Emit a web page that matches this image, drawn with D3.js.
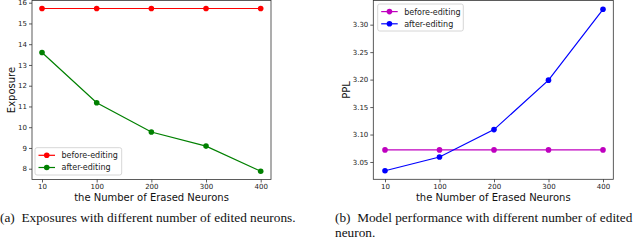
<!DOCTYPE html>
<html>
<head>
<meta charset="utf-8">
<script src="https://cdn.jsdelivr.net/npm/d3@7"></script>
<style>
    body { margin: 0; background: #fff; }
    svg { display: block; }
    .tick-label { font-family: "DejaVu Sans", sans-serif; font-size: 7px; fill: #222; }
    .axis-title { font-family: "DejaVu Sans", sans-serif; font-size: 10px; fill: #111; }
    .legend-text { font-family: "DejaVu Sans", sans-serif; font-size: 8px; fill: #222; }
    .caption { font-family: "Liberation Serif", "Times New Roman", serif; font-size: 13.3px; fill: #111; white-space: pre; }
</style>
</head>
<body>
<script>
// ============================================================
// Two panels: Exposure and PPL vs number of erased neurons
// ============================================================

var categories = ["10", "100", "200", "300", "400"];

var exposureBefore = [15.72, 15.72, 15.72, 15.72, 15.72];
var exposureAfter = [13.6, 11.18, 9.77, 9.09, 7.88];
var exposureTicks = [8, 9, 10, 11, 12, 13, 14, 15, 16];

var pplBefore = [3.072, 3.072, 3.072, 3.072, 3.072];
var pplAfter = [3.034, 3.059, 3.109, 3.199, 3.328];
var pplTicks = [3.05, 3.10, 3.15, 3.20, 3.25, 3.30];

var seriesNames = ["before-editing", "after-editing"];

var w = 640, h = 240;

var svg = d3.select("body").append("svg")
    .attr("width", w)
    .attr("height", h);

// panel config
var panels = [
    {
        left: 32, right: 271, top: 0.5, bottom: 179.5,
        xRange: [42, 260.7],
        yDomain: [7.48, 16.106],
        ticks: exposureTicks, fmt: d3.format("d"),
        series: [exposureBefore, exposureAfter],
        colors: ["#ff0000", "#008000"],
        ylabel: "Exposure", ylabelX: 11,
        legend: { x: 35, y: 147.7, w: 86.7, h: 27.3 },
        caption: ["(a)  Exposures with different number of edited neurons."],
        capX: 0
    },
    {
        left: 373.3, right: 613.3, top: 0.5, bottom: 179.3,
        xRange: [385, 603],
        yDomain: [3.0185, 3.344],
        ticks: pplTicks, fmt: d3.format(".2f"),
        series: [pplBefore, pplAfter],
        colors: ["#bf00bf", "#0000ff"],
        ylabel: "PPL", ylabelX: 346,
        legend: { x: 377.7, y: 4, w: 85.6, h: 27 },
        caption: ["(b)  Model performance with different number of edited", "neuron."],
        capX: 335
    }
];

panels.forEach(function(p) {
    var x = d3.scalePoint().domain(categories).range(p.xRange);
    var y = d3.scaleLinear().domain(p.yDomain).range([p.bottom, p.top]);
    var g = svg.append("g");

    // x axis
    var xAxis = g.append("g")
        .attr("transform", "translate(0," + p.bottom + ")")
        .call(d3.axisBottom(x).tickSize(3).tickPadding(2));
    // y axis
    var yAxis = g.append("g")
        .attr("transform", "translate(" + p.left + ",0)")
        .call(d3.axisLeft(y).tickValues(p.ticks).tickFormat(p.fmt).tickSize(3).tickPadding(2));

    [xAxis, yAxis].forEach(function(a) {
        a.select(".domain").remove();
        a.selectAll(".tick line").attr("stroke", "#333").attr("stroke-width", 0.8);
        a.selectAll(".tick text").attr("class", "tick-label").attr("font-family", null).attr("font-size", null).attr("fill", null);
    });

    // frame
    g.append("rect")
        .attr("x", p.left)
        .attr("y", p.top)
        .attr("width", p.right - p.left)
        .attr("height", p.bottom - p.top)
        .attr("fill", "none")
        .attr("stroke", "#333")
        .attr("stroke-width", 0.8);

    // lines + markers
    var line = d3.line()
        .x(function(d, i) { return x(categories[i]); })
        .y(function(d) { return y(d); });

    p.series.forEach(function(s, k) {
        g.append("path")
            .datum(s)
            .attr("d", line)
            .attr("fill", "none")
            .attr("stroke", p.colors[k])
            .attr("stroke-width", 1.2);
        g.selectAll(null)
            .data(s)
            .enter().append("circle")
            .attr("cx", function(d, i) { return x(categories[i]); })
            .attr("cy", function(d) { return y(d); })
            .attr("r", 2.8)
            .attr("fill", p.colors[k]);
    });

    // legend
    var L = p.legend;
    g.append("rect")
        .attr("x", L.x)
        .attr("y", L.y)
        .attr("width", L.w)
        .attr("height", L.h)
        .attr("rx", 2)
        .attr("fill", "#fff")
        .attr("fill-opacity", 0.8)
        .attr("stroke", "#ccc")
        .attr("stroke-width", 0.8);
    seriesNames.forEach(function(name, k) {
        var ly = L.y + 7.6 + k * 12.2;
        g.append("line")
            .attr("x1", L.x + 3.5)
            .attr("x2", L.x + 20)
            .attr("y1", ly)
            .attr("y2", ly)
            .attr("stroke", p.colors[k])
            .attr("stroke-width", 1.2);
        g.append("circle")
            .attr("cx", L.x + 11.75)
            .attr("cy", ly)
            .attr("r", 2.8)
            .attr("fill", p.colors[k]);
        g.append("text")
            .attr("class", "legend-text")
            .attr("x", L.x + 26.5)
            .attr("y", ly + 2.9)
            .text(name);
    });

    // axis titles
    g.append("text")
        .attr("class", "axis-title")
        .attr("x", (p.left + p.right) / 2)
        .attr("y", 201)
        .attr("text-anchor", "middle")
        .text("the Number of Erased Neurons");

    g.append("text")
        .attr("class", "axis-title")
        .attr("transform", "translate(" + (p.ylabelX + 3.5) + "," + ((p.top + p.bottom) / 2) + ") rotate(-90)")
        .attr("text-anchor", "middle")
        .text(p.ylabel);

    // caption
    p.caption.forEach(function(c, i) {
        svg.append("text")
            .attr("class", "caption")
            .attr("x", p.capX)
            .attr("y", 222 + i * 14.5)
            .text(c);
    });
});
</script>
</body>
</html>
